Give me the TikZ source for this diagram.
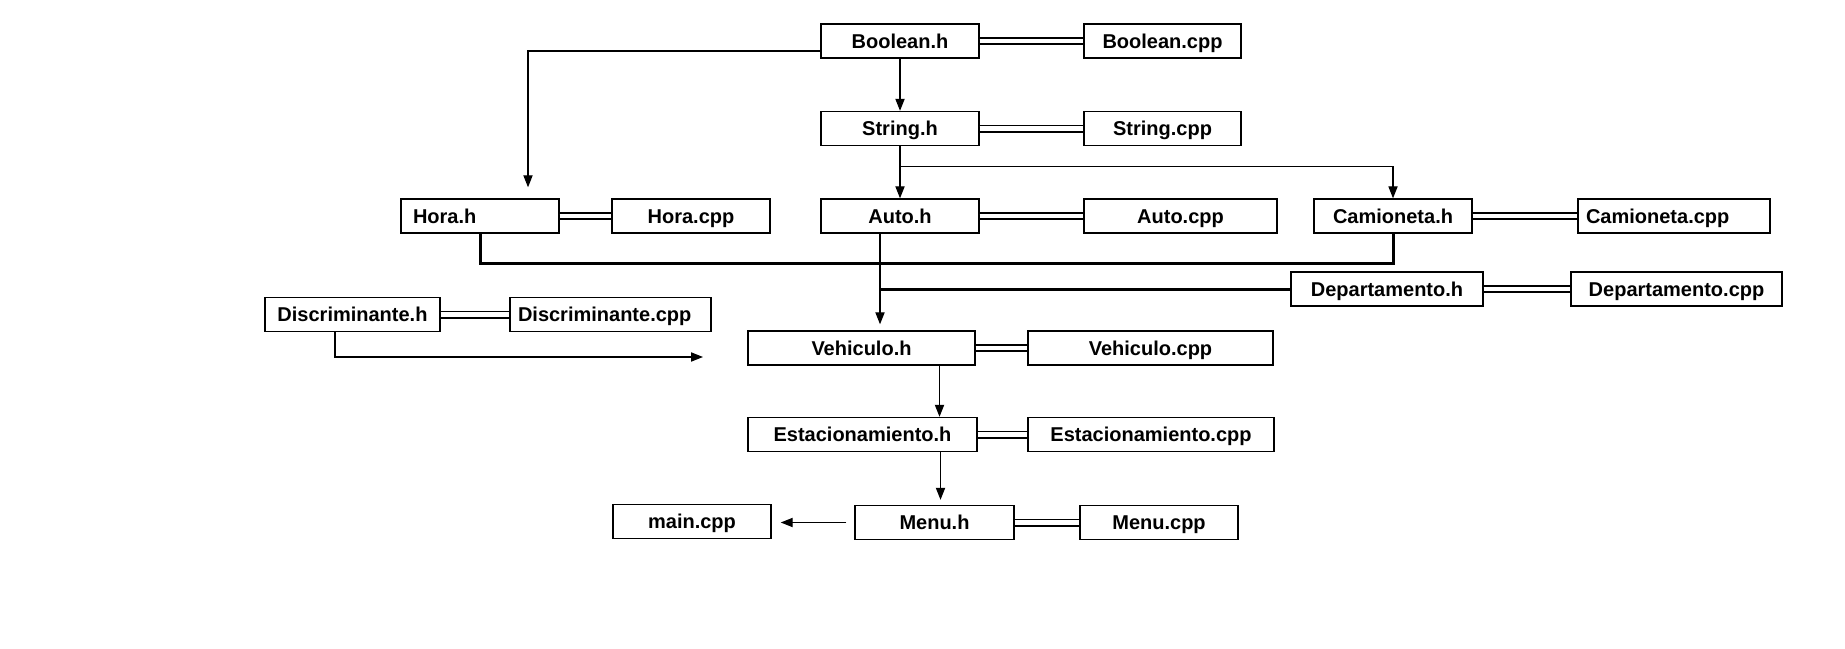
\documentclass[tikz,border=0pt]{standalone}
\usepackage{fontspec}
\setmainfont{Liberation Sans}
\usetikzlibrary{arrows.meta}

\begin{document}
\begin{tikzpicture}[x=0.5pt,y=-0.5pt,
    file/.style={draw,line width=0.7pt,minimum height=17pt,inner sep=0pt,
      text height=8.6pt,text depth=1.4pt,font=\bfseries},
    lfile/.style={file,align=left,inner xsep=4pt},
    dep/.style={-{Triangle[length=6pt,width=4.6pt]},line width=0.6pt},
    pair/.style={double,double distance=2.4pt,line width=0.8pt},
    bus/.style={line width=1.5pt}]
  \useasboundingbox (0,0) rectangle (1845,648);
  % header files and their sources
  \node[file,minimum width=79pt]   (boolh)   at (900,41)      {Boolean.h};
  \node[file,minimum width=78.5pt] (boolcpp) at (1162.5,41)   {Boolean.cpp};
  \node[file,minimum width=79pt]   (strh)    at (900,128.5)   {String.h};
  \node[file,minimum width=78.5pt] (strcpp)  at (1162.5,128.5) {String.cpp};
  \node[lfile,inner xsep=6pt,text width=67pt] (horah) at (480,216) {Hora.h};
  \node[file,minimum width=79pt]   (horacpp) at (691,216)     {Hora.cpp};
  \node[file,minimum width=79pt]   (autoh)   at (900,216)     {Auto.h};
  \node[file,minimum width=96.5pt] (autocpp) at (1180.5,216)  {Auto.cpp};
  \node[file,minimum width=79pt]   (camh)    at (1393,216)    {Camioneta.h};
  \node[lfile,text width=88pt]     (camcpp)  at (1674,216)    {Camioneta.cpp};
  \node[file,minimum width=96pt]   (deph)    at (1387,289)    {Departamento.h};
  \node[file,minimum width=105.5pt] (depcpp) at (1676.5,289)  {Departamento.cpp};
  \node[file,minimum width=87.5pt] (disch)   at (352.5,314.5) {Discriminante.h};
  \node[lfile,text width=92.5pt]   (disccpp) at (610.5,314.5) {Discriminante.cpp};
  \node[file,minimum width=113.5pt] (vehh)   at (861.5,348)   {Vehiculo.h};
  \node[file,minimum width=122.5pt] (vehcpp) at (1150.5,348)  {Vehiculo.cpp};
  \node[file,minimum width=114.5pt] (esth)   at (862.5,434.5) {Estacionamiento.h};
  \node[file,minimum width=123pt]  (estcpp)  at (1151,434.5)  {Estacionamiento.cpp};
  \node[file,minimum width=79pt]   (mainc)   at (692,521.5)   {main.cpp};
  \node[file,minimum width=79.5pt] (menuh)   at (934.5,522.5) {Menu.h};
  \node[file,minimum width=79pt]   (menucpp) at (1159,522.5)  {Menu.cpp};
  % .h -- .cpp
  \draw[pair] (boolh) -- (boolcpp);
  \draw[pair] (strh) -- (strcpp);
  \draw[pair] (horah) -- (horacpp);
  \draw[pair] (autoh) -- (autocpp);
  \draw[pair] (camh) -- (camcpp);
  \draw[pair] (deph) -- (depcpp);
  \draw[pair] (disch) -- (disccpp);
  \draw[pair] (vehh) -- (vehcpp);
  \draw[pair] (esth) -- (estcpp);
  \draw[pair] (menuh) -- (menucpp);
  % includes
  \draw[dep] ([yshift=-5pt]boolh.west) -| ([xshift=24pt,yshift=5.5pt]horah.north);
  \draw[dep] (boolh) -- (strh);
  \draw[dep] (strh) -- (autoh);
  \coordinate (fork) at ([yshift=-10pt]strh.south);
  \draw[dep] (fork) -| (camh.north);
  \coordinate (busl) at ([yshift=-15pt]horah.south);
  \draw[bus] (horah.south) -- (busl) -| (camh.south);
  \coordinate (autoout) at ([xshift=-10pt]autoh.south);
  \draw[dep,shorten >=3pt] (autoout) -- (autoout |- vehh.north);
  \draw[bus] (deph.west) -- (deph.west -| autoout);
  \coordinate (discend) at (703,357);
  \draw[dep] ([xshift=-8.75pt]disch.south) |- (discend);
  \draw[dep] ([xshift=39pt]vehh.south) -- ([xshift=39pt]vehh.south |- esth.north);
  \draw[dep,shorten >=2.5pt] ([xshift=39pt]esth.south) -- ([xshift=39pt]esth.south |- menuh.north);
  \draw[dep,shorten <=4pt,shorten >=4.5pt] (menuh.west) -- (menuh.west -| mainc.east);
\end{tikzpicture}
\end{document}
